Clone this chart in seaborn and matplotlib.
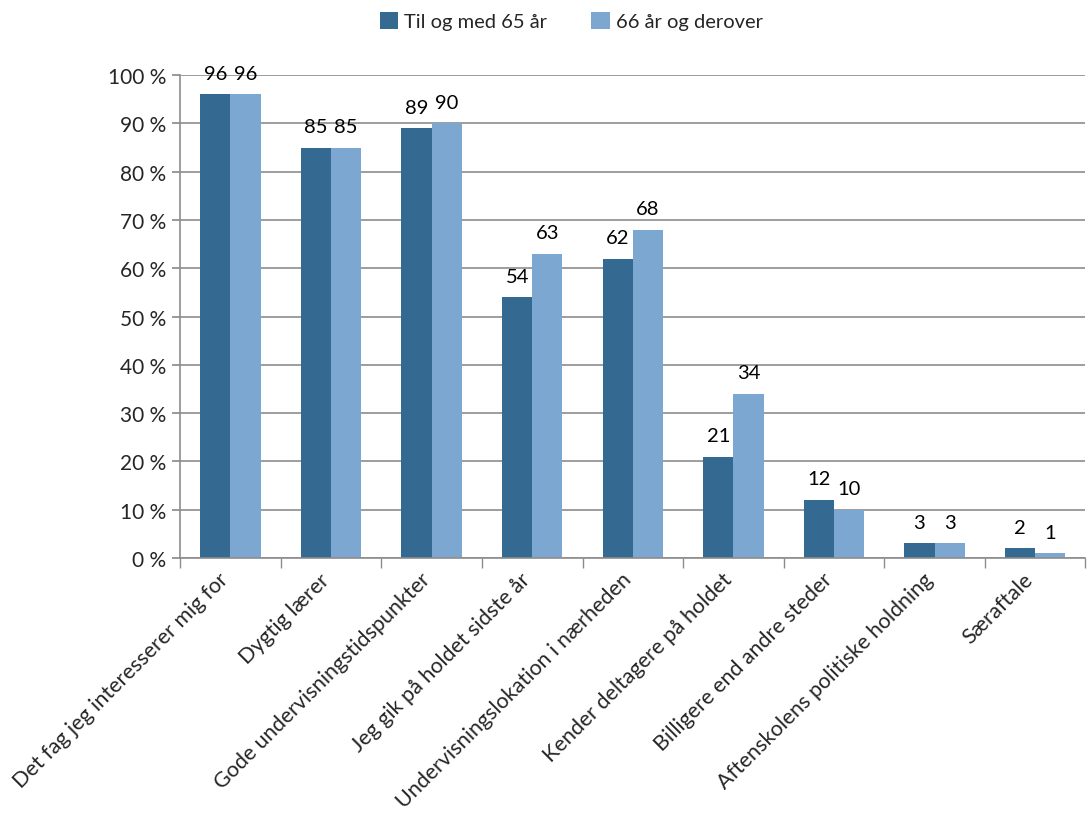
import matplotlib
matplotlib.use("Agg")
import matplotlib.pyplot as plt
import matplotlib.transforms as mtransforms
import numpy as np
import pandas as pd
import seaborn as sns

# data
categories = [
    "Det fag jeg interesserer mig for",
    "Dygtig lærer",
    "Gode undervisningstidspunkter",
    "Jeg gik på holdet sidste år",
    "Undervisningslokation i nærheden",
    "Kender deltagere på holdet",
    "Billigere end andre steder",
    "Aftenskolens politiske holdning",
    "Særaftale",
]
series = ["Til og med 65 år", "66 år og derover"]
upto_65 = [96, 85, 89, 54, 62, 21, 12, 3, 2]
from_66 = [96, 85, 90, 63, 68, 34, 10, 3, 1]
yticks = list(range(0, 101, 10))

colors = ["#346A91", "#7BA7D0"]

df = pd.DataFrame({
    "kategori": categories * 2,
    "gruppe": [series[0]] * len(categories) + [series[1]] * len(categories),
    "andel": upto_65 + from_66,
})

sns.set_theme(style="white")
plt.rcParams["font.family"] = ["Lato", "DejaVu Sans"]
fs = 14.5

fig = plt.figure(figsize=(10.92, 8.28), dpi=100)
ax = fig.add_axes([0.165, 0.325, 0.829, 0.583])

sns.barplot(data=df, x="kategori", y="andel", hue="gruppe", palette=colors,
            width=0.6, ax=ax, saturation=1, edgecolor="none", legend=True)

ax.set_ylim(0, 100)
ax.set_xlim(-0.5, len(categories) - 0.5)
ax.set_yticks(yticks)
ax.set_yticklabels([f"{t} %" for t in yticks], fontsize=15)
ax.set_xlabel("")
ax.set_ylabel("")
ax.yaxis.grid(True, color="#8c8c8c", linewidth=1.2)
ax.set_axisbelow(True)

# category labels rotated
ax.set_xticks(range(len(categories)))
ax.set_xticklabels(categories, rotation=45, ha="right", rotation_mode="anchor", fontsize=15.5)
ax.tick_params(axis="x", length=0, pad=8)
shift = mtransforms.ScaledTranslation(-0.12, 0, fig.dpi_scale_trans)
for lbl in ax.get_xticklabels():
    lbl.set_transform(lbl.get_transform() + shift)
ax.tick_params(axis="y", length=6, color="#8c8c8c", direction="out", left=True, pad=4)
# boundary ticks between categories
ax.set_xticks(np.arange(-0.5, len(categories), 1), minor=True)
ax.tick_params(axis="x", which="minor", length=7, color="#8c8c8c", direction="out", bottom=True)

for side in ["top", "right"]:
    ax.spines[side].set_visible(False)
for side in ["left", "bottom"]:
    ax.spines[side].set_color("#8c8c8c")
    ax.spines[side].set_linewidth(1.2)

for cont in ax.containers:
    ax.bar_label(cont, labels=[f"{v:.0f}" for v in cont.datavalues],
                 padding=9, fontsize=fs, color="black", clip_on=False)

leg = ax.legend(loc="center", bbox_to_anchor=(0.432, 1.112), ncol=2,
                frameon=False, fontsize=fs, handlelength=0.9, handleheight=0.9,
                handletextpad=0.3, columnspacing=2.2)

fig.savefig("out.png", dpi=100)
